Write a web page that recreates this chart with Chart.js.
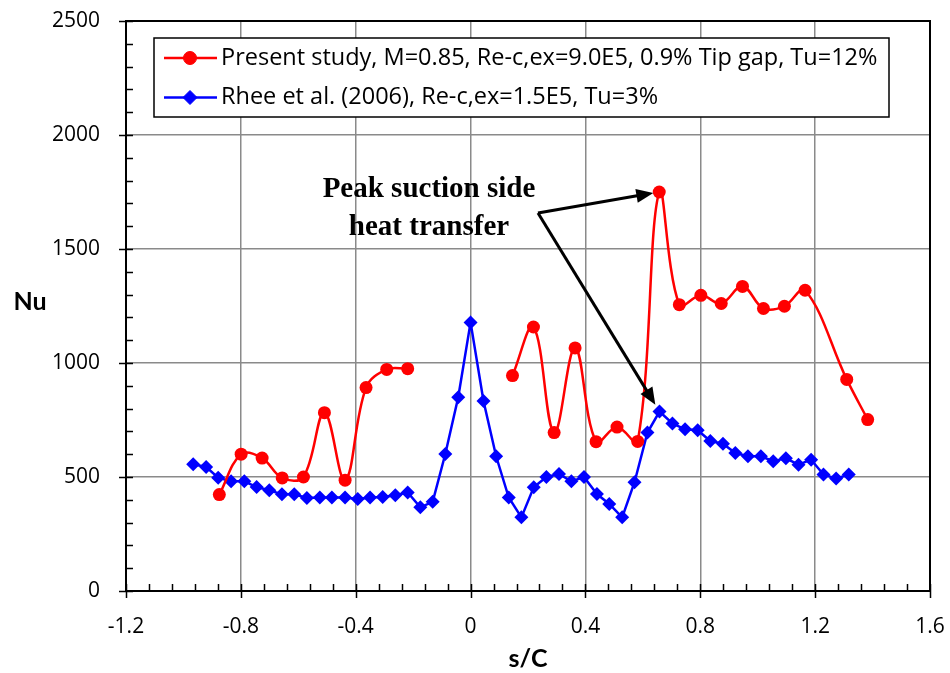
<!DOCTYPE html>
<html>
<head>
<meta charset="utf-8">
<title>Nu vs s/C</title>
<script src="https://cdn.jsdelivr.net/npm/chart.js@4.4.1/dist/chart.umd.min.js"></script>
<style>
  html, body { margin: 0; padding: 0; background: #fff; }
</style>
</head>
<body>
<canvas id="grafico-nu" width="950" height="673"></canvas>
<script>
// Present study (gap in the measurements around the leading edge)
const presentS = [-0.875, -0.799, -0.726, -0.656, -0.582, -0.509, -0.437, -0.364, -0.292, -0.219, 0,
  0.146, 0.219, 0.291, 0.364, 0.437, 0.510, 0.582, 0.657, 0.727, 0.802, 0.873, 0.947, 1.020, 1.093, 1.165, 1.310, 1.383];
const presentNu = [423, 600, 583, 496, 500, 782, 486, 892, 972, 975, null,
  945, 1158, 695, 1066, 655, 719, 656, 1750, 1256, 1297, 1261, 1336, 1239, 1249, 1319, 928, 752];

// Rhee et al. (2006)
const rheeS = [-0.966, -0.921, -0.879, -0.834, -0.788, -0.745, -0.701, -0.657, -0.614, -0.570, -0.525,
  -0.483, -0.437, -0.393, -0.350, -0.306, -0.262, -0.219, -0.175, -0.132, -0.088, -0.043, 0,
  0.045, 0.089, 0.133, 0.177, 0.220, 0.264, 0.308, 0.351, 0.395, 0.440, 0.483, 0.528, 0.571,
  0.616, 0.658, 0.703, 0.747, 0.791, 0.835, 0.879, 0.922, 0.966, 1.011, 1.054, 1.098, 1.142,
  1.186, 1.229, 1.273, 1.317];
const rheeNu = [556, 544, 497, 481, 481, 456, 442, 424, 424, 408, 410,
  410, 410, 404, 410, 412, 420, 432, 367, 391, 601, 850, 1178,
  833, 591, 410, 323, 455, 500, 513, 481, 500, 425, 382, 323, 477,
  695, 787, 735, 709, 705, 658, 646, 605, 591, 591, 569, 582, 554,
  576, 511, 493, 511];

const xTicks = [-1.2, -0.8, -0.4, 0, 0.4, 0.8, 1.2, 1.6];
const yTicks = [0, 500, 1000, 1500, 2000, 2500];
const xMinorStep = 0.08;
const yMinorStep = 100;

const presentLabel = 'Present study, M=0.85, Re-c,ex=9.0E5, 0.9% Tip gap, Tu=12%';
const rheeLabel = 'Rhee et al. (2006), Re-c,ex=1.5E5, Tu=3%';
const notaPico = ['Peak suction side', 'heat transfer'];
const tituloX = 's/C';
const tituloY = 'Nu';

const fonte = '"Open Sans", Lato, sans-serif';
const fonteTitulo = 'Lato, "Open Sans", sans-serif';

const toPoints = (xs, ys) => xs.map((v, i) => ({ x: v, y: ys[i] }));

// Arrow from (x0,y0) stopping `gap` px before (x1,y1)
function seta(ctx, x0, y0, x1, y1, gap) {
  const dx = x1 - x0, dy = y1 - y0;
  const len = Math.hypot(dx, dy);
  const ux = dx / len, uy = dy / len;
  const tx = x1 - ux * gap, ty = y1 - uy * gap;
  const head = 17, half = 7;
  ctx.beginPath();
  ctx.moveTo(x0, y0);
  ctx.lineTo(tx - ux * head * 0.8, ty - uy * head * 0.8);
  ctx.stroke();
  ctx.beginPath();
  ctx.moveTo(tx, ty);
  ctx.lineTo(tx - ux * head - uy * half, ty - uy * head + ux * half);
  ctx.lineTo(tx - ux * head + uy * half, ty - uy * head - ux * half);
  ctx.closePath();
  ctx.fill();
}

const extras = {
  id: 'extras',
  afterDraw(chart) {
    const { ctx, chartArea: a, scales: { x, y } } = chart;
    ctx.save();

    // moldura da área do gráfico
    ctx.strokeStyle = '#000';
    ctx.lineWidth = 2;
    ctx.strokeRect(a.left, a.top, a.right - a.left, a.bottom - a.top);

    // marcas dos eixos (maiores cruzam o eixo, menores para dentro)
    ctx.lineWidth = 1.5;
    ctx.beginPath();
    for (let v = x.min; v <= x.max + 1e-9; v += xMinorStep) {
      const px = Math.round(x.getPixelForValue(v)) + 0.5;
      const major = xTicks.some(t => Math.abs(t - v) < 1e-6);
      ctx.moveTo(px, a.bottom + (major ? 7 : 0));
      ctx.lineTo(px, a.bottom - 7);
    }
    for (let v = y.min; v <= y.max + 1e-9; v += yMinorStep) {
      const py = Math.round(y.getPixelForValue(v)) + 0.5;
      const major = yTicks.includes(Math.round(v));
      ctx.moveTo(a.left - (major ? 7 : 0), py);
      ctx.lineTo(a.left + 7, py);
    }
    ctx.stroke();

    // títulos dos eixos
    ctx.fillStyle = '#000';
    ctx.font = 'bold 25px ' + fonteTitulo;
    ctx.textAlign = 'center';
    ctx.textBaseline = 'alphabetic';
    ctx.fillText(tituloY, 30, 310);
    ctx.fillText(tituloX, (a.left + a.right) / 2, 667);

    // legenda
    const lx = 154, ly = 38, lw = 735, lh = 79;
    ctx.fillStyle = '#fff';
    ctx.fillRect(lx, ly, lw, lh);
    ctx.strokeStyle = '#000';
    ctx.lineWidth = 1.5;
    ctx.strokeRect(lx, ly, lw, lh);
    chart.data.datasets.forEach((ds, i) => {
      const yy = i === 0 ? 58 : 97.5;
      ctx.strokeStyle = ds.borderColor;
      ctx.fillStyle = ds.borderColor;
      ctx.lineWidth = 2.5;
      ctx.beginPath();
      ctx.moveTo(164, yy);
      ctx.lineTo(217, yy);
      ctx.stroke();
      ctx.lineWidth = 1;
      Chart.helpers.drawPoint(ctx, {
        pointStyle: ds.pointStyle, radius: ds.pointRadius, borderWidth: 1
      }, 190, yy);
      ctx.fillStyle = '#000';
      ctx.font = '23.5px ' + fonte;
      ctx.textAlign = 'left';
      ctx.textBaseline = 'middle';
      ctx.fillText(ds.label, 221, yy);
    });

    // anotação do pico
    ctx.fillStyle = '#000';
    ctx.font = 'bold 29px "Liberation Serif", "Times New Roman", serif';
    ctx.textAlign = 'center';
    ctx.textBaseline = 'alphabetic';
    ctx.fillText(notaPico[0], 429, 197);
    ctx.fillText(notaPico[1], 429, 235);

    // setas até os picos das duas séries
    const iPico = presentNu.indexOf(Math.max(...presentNu.filter(v => v !== null)));
    const sPico = presentS[iPico];
    let iRhee = 0;
    rheeS.forEach((s, i) => { if (Math.abs(s - sPico) < Math.abs(rheeS[iRhee] - sPico)) iRhee = i; });
    const ox = 538, oy = 213;
    ctx.strokeStyle = '#000';
    ctx.lineWidth = 3;
    seta(ctx, ox, oy, x.getPixelForValue(sPico), y.getPixelForValue(presentNu[iPico]), 6);
    seta(ctx, ox, oy, x.getPixelForValue(rheeS[iRhee]), y.getPixelForValue(rheeNu[iRhee]), 8);

    ctx.restore();
  }
};

const grafico = new Chart(document.getElementById('grafico-nu').getContext('2d'), {
  type: 'line',
  data: {
    datasets: [{
      label: presentLabel,
      data: toPoints(presentS, presentNu),
      borderColor: '#ff0000',
      backgroundColor: '#ff0000',
      borderWidth: 2.5,
      pointStyle: 'circle',
      pointRadius: 6.5,
      pointBorderWidth: 0,
      tension: 0.38,
      spanGaps: false
    }, {
      label: rheeLabel,
      data: toPoints(rheeS, rheeNu),
      borderColor: '#0000ff',
      backgroundColor: '#0000ff',
      borderWidth: 2.5,
      pointStyle: 'rectRot',
      pointRadius: 7,
      pointBorderWidth: 0,
      tension: 0
    }]
  },
  options: {
    responsive: false,
    animation: false,
    events: [],
    layout: { padding: { top: 21, right: 20, left: 0, bottom: 0 } },
    plugins: {
      legend: { display: false },
      tooltip: { enabled: false }
    },
    scales: {
      x: {
        type: 'linear',
        min: -1.2,
        max: 1.6,
        afterBuildTicks: s => { s.ticks = xTicks.map(v => ({ value: v })); },
        afterFit: s => { s.height = 82; s.paddingLeft = 0; s.paddingRight = 0; },
        ticks: {
          font: { family: fonte, size: 21 },
          color: '#000',
          padding: 23,
          maxRotation: 0,
          callback: v => (v === 0 ? '0' : v.toFixed(1))
        },
        grid: { color: '#8a8a8a', lineWidth: 1.5, drawTicks: false },
        border: { display: true, color: '#000', width: 2 }
      },
      y: {
        min: 0,
        max: 2500,
        afterBuildTicks: s => { s.ticks = yTicks.map(v => ({ value: v })); },
        afterFit: s => { s.width = 126; s.paddingTop = 0; s.paddingBottom = 0; },
        ticks: {
          font: { family: fonte, size: 21 },
          color: '#000',
          padding: 26,
          callback: v => String(v)
        },
        grid: { color: '#8a8a8a', lineWidth: 1.5, drawTicks: false },
        border: { display: true, color: '#000', width: 2 }
      }
    }
  },
  plugins: [extras]
});
</script>
</body>
</html>
